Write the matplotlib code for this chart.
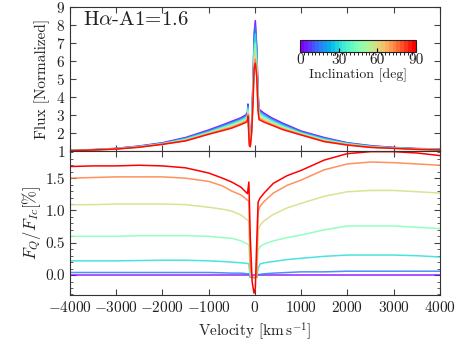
import matplotlib
matplotlib.use("Agg")
import matplotlib.pyplot as plt
import numpy as np
from matplotlib.colors import BoundaryNorm, ListedColormap
from matplotlib.colorbar import ColorbarBase
from matplotlib.ticker import MultipleLocator

plt.rcParams["font.family"] = "serif"
plt.rcParams["font.serif"] = ["cmr10", "DejaVu Serif"]
plt.rcParams["mathtext.fontset"] = "cm"
plt.rcParams["axes.formatter.use_mathtext"] = True
plt.rcParams["axes.unicode_minus"] = True

inclinations = [0, 15, 30, 45, 60, 75, 90]

# velocity grid of the top (flux) panel, km/s
vel_flux = [-4000, -3500, -3000, -2500, -2000, -1500, -1000, -700, -500, -300, -200,
            -160, -150, -120, -100, -70, -40, -15, 10, 40, 70, 90, 110, 200, 360,
            600, 1000, 1500, 2000, 2500, 3000, 3500, 4000]
flux = {
    0:  [1.03, 1.08, 1.15, 1.28, 1.46, 1.75, 2.17, 2.45, 2.65, 2.85, 3.00, 3.15, 3.61, 1.80, 1.45,
         2.6, 5.0, 7.6, 8.24, 6.8, 4.2, 3.30, 3.28, 3.10, 2.85, 2.55, 2.11, 1.75, 1.46, 1.30, 1.20, 1.14, 1.11],
    15: [1.03, 1.07, 1.14, 1.26, 1.44, 1.72, 2.12, 2.40, 2.59, 2.79, 2.93, 3.08, 3.52, 1.76, 1.42,
         2.5, 4.8, 7.3, 7.95, 6.6, 4.1, 3.22, 3.20, 3.03, 2.78, 2.49, 2.07, 1.71, 1.44, 1.28, 1.19, 1.13, 1.10],
    30: [1.03, 1.07, 1.13, 1.25, 1.42, 1.68, 2.07, 2.34, 2.52, 2.72, 2.85, 2.99, 3.40, 1.70, 1.38,
         2.4, 4.6, 6.9, 7.5, 6.3, 3.9, 3.12, 3.10, 2.94, 2.70, 2.42, 2.02, 1.67, 1.42, 1.26, 1.18, 1.12, 1.09],
    45: [1.02, 1.07, 1.13, 1.24, 1.40, 1.64, 2.02, 2.28, 2.45, 2.66, 2.78, 2.90, 3.28, 1.62, 1.34,
         2.3, 4.3, 6.5, 7.0, 5.9, 3.7, 3.02, 3.00, 2.85, 2.62, 2.35, 1.98, 1.62, 1.39, 1.24, 1.17, 1.11, 1.08],
    60: [1.02, 1.06, 1.12, 1.23, 1.39, 1.61, 1.98, 2.22, 2.38, 2.59, 2.71, 2.82, 3.16, 1.52, 1.30,
         2.2, 4.1, 6.1, 6.5, 5.6, 3.5, 2.92, 2.90, 2.76, 2.55, 2.29, 1.94, 1.58, 1.37, 1.22, 1.16, 1.10, 1.07],
    75: [1.02, 1.06, 1.11, 1.22, 1.38, 1.58, 1.95, 2.17, 2.32, 2.52, 2.64, 2.74, 3.04, 1.40, 1.27,
         2.1, 3.9, 5.8, 6.1, 5.3, 3.3, 2.82, 2.80, 2.67, 2.48, 2.23, 1.91, 1.55, 1.35, 1.21, 1.15, 1.10, 1.07],
    90: [1.02, 1.06, 1.11, 1.21, 1.37, 1.56, 1.93, 2.13, 2.27, 2.47, 2.58, 2.66, 2.94, 1.30, 1.24,
         2.0, 3.7, 5.6, 5.87, 5.1, 3.2, 2.74, 2.72, 2.60, 2.44, 2.19, 1.89, 1.52, 1.33, 1.20, 1.15, 1.09, 1.06],
}

# velocity grid of the bottom (polarisation) panel, km/s
vel_pol = [-4000, -3500, -3000, -2500, -2000, -1500, -1000, -700, -500, -300, -160,
           -130, -100, -60, -20, 10, 40, 70, 110, 200, 400, 700, 1000, 1500, 2000,
           2500, 3000, 3500, 4000]
pol = {
    0:  [0.00, 0.00, 0.00, 0.00, 0.00, 0.00, 0.00, 0.00, 0.00, 0.00, 0.00,
         0.00, 0.00, 0.00, 0.00, 0.00, 0.00, 0.00, 0.00, 0.00, 0.00, 0.00, 0.00, 0.00, 0.00,
         0.00, 0.00, 0.00, 0.00],
    15: [0.04, 0.04, 0.04, 0.04, 0.04, 0.04, 0.04, 0.035, 0.03, 0.03, 0.02,
         0.02, -0.03, -0.04, -0.04, -0.04, -0.03, 0.01, 0.01, 0.02, 0.03, 0.04, 0.05, 0.05, 0.06,
         0.06, 0.06, 0.06, 0.06],
    30: [0.22, 0.22, 0.22, 0.225, 0.23, 0.23, 0.22, 0.21, 0.20, 0.19, 0.18,
         0.17, -0.02, -0.03, -0.04, -0.04, -0.03, 0.10, 0.17, 0.19, 0.21, 0.24, 0.26, 0.29, 0.31,
         0.31, 0.31, 0.30, 0.28],
    45: [0.60, 0.60, 0.60, 0.61, 0.61, 0.61, 0.60, 0.58, 0.57, 0.53, 0.48,
         0.47, 0.00, -0.03, -0.04, -0.04, -0.03, 0.38, 0.44, 0.48, 0.53, 0.58, 0.62, 0.70, 0.76,
         0.76, 0.76, 0.74, 0.72],
    60: [1.09, 1.09, 1.10, 1.10, 1.10, 1.09, 1.05, 1.02, 0.99, 0.93, 0.85,
         0.84, 0.05, -0.03, -0.04, -0.04, -0.03, 0.70, 0.77, 0.84, 0.94, 1.04, 1.11, 1.22, 1.29,
         1.31, 1.31, 1.29, 1.27],
    75: [1.50, 1.51, 1.52, 1.52, 1.52, 1.50, 1.45, 1.38, 1.30, 1.24, 1.16,
         1.15, 0.10, -0.03, -0.04, -0.04, -0.03, 0.98, 1.06, 1.14, 1.27, 1.39, 1.47, 1.63, 1.72,
         1.75, 1.74, 1.72, 1.70],
    90: [1.68, 1.69, 1.69, 1.70, 1.69, 1.66, 1.58, 1.50, 1.44, 1.36, 1.26,
         1.44, 0.60, -0.10, -0.28, -0.20, 0.50, 1.13, 1.19, 1.27, 1.42, 1.54, 1.62, 1.78, 1.88,
         1.91, 1.91, 1.89, 1.85],
}

cmap = plt.get_cmap("rainbow")
text_col = "#222222"

fig = plt.figure(figsize=(4.63, 3.48), dpi=100)
ax1 = fig.add_axes([0.151, 0.566, 0.799, 0.414])
ax2 = fig.add_axes([0.151, 0.152, 0.799, 0.414], sharex=ax1)

for inc in inclinations:
    c = cmap(inc / 90)
    ax1.plot(vel_flux, flux[inc], color=c, lw=1.1, alpha=0.9)
    ax2.plot(vel_pol, pol[inc], color=c, lw=1.1, alpha=0.85 if inc < 90 else 1.0)

ax1.set_xlim(-4000, 4000)
ax1.set_ylim(1, 9)
ax1.yaxis.set_major_locator(MultipleLocator(1))
ax1.xaxis.set_major_locator(MultipleLocator(1000))
ax1.tick_params(labelbottom=False)
ax1.set_ylabel("Flux [Normalized]", fontsize=11, color=text_col, labelpad=4)
ax1.text(0.035, 0.97, r"H$\alpha$-A1=1.6", transform=ax1.transAxes,
         fontsize=15, va="top", ha="left", color=text_col)

ax2.set_ylim(-0.31, 1.92)
ax2.yaxis.set_major_locator(MultipleLocator(0.5))
ax2.yaxis.set_minor_locator(MultipleLocator(0.1))
ax2.set_yticks([0.0, 0.5, 1.0, 1.5])
ax2.set_yticklabels(["0.0", "0.5", "1.0", "1.5"])
ax2.set_xlabel(r"Velocity $[\mathrm{km\,s^{-1}}]$", fontsize=11, color=text_col)
ax2.set_ylabel(r"$F_Q/F_{Ic}[\%]$", fontsize=12, color=text_col, labelpad=2)

for ax in (ax1, ax2):
    ax.tick_params(which="both", direction="in", top=True, right=True,
                   labelsize=11, colors="#444444", labelcolor=text_col)
    ax.tick_params(which="major", length=4)
    ax.tick_params(which="minor", length=2)
    for s in ax.spines.values():
        s.set_color("#333333")

# inclination colour bar inside the top panel
cax = fig.add_axes([0.648, 0.851, 0.250, 0.034])
bounds = np.linspace(0, 90, 31)
bar_cmap = ListedColormap(cmap(np.linspace(0, 1, 30)))
cb = ColorbarBase(cax, cmap=bar_cmap, norm=BoundaryNorm(bounds, bar_cmap.N),
                  orientation="horizontal", ticks=[0, 30, 60, 90])
cb.set_ticklabels(["0", "30", "60", "90"])
cb.outline.set_edgecolor("#222222")
cb.ax.tick_params(labelsize=11, direction="in", length=3, labelcolor=text_col, pad=1)
cb.set_label("Inclination [deg]", fontsize=10, color=text_col, labelpad=1)

plt.savefig("out.png", dpi=100)
